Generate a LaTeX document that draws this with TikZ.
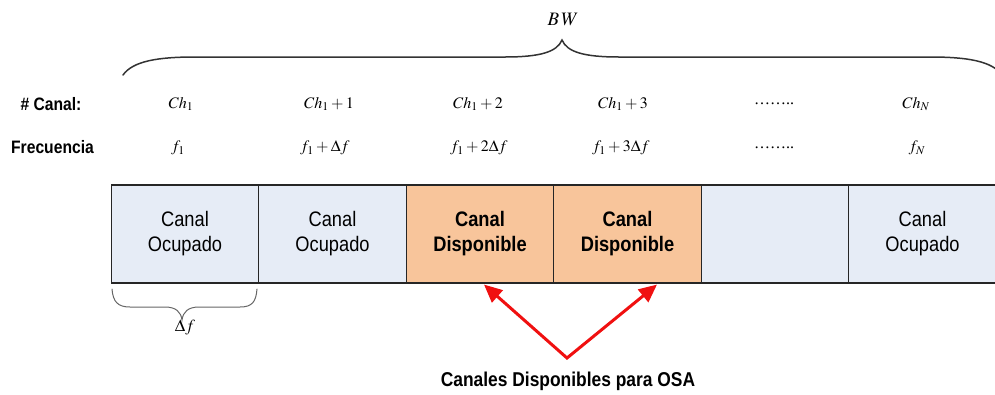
\documentclass[tikz,border=0pt]{standalone}
\usepackage{mathptmx}
\usepackage{fontspec}
\setmainfont{Liberation Serif}
\setsansfont{Liberation Sans}
\newfontfamily\condsans[FakeStretch=0.87]{Liberation Sans}
\usetikzlibrary{arrows.meta,calc}
\definecolor{occfill}{HTML}{E6ECF6}
\definecolor{availfill}{HTML}{F8C59B}
\definecolor{arrowred}{HTML}{F01010}
\begin{document}
\begin{tikzpicture}[x=1pt,y=-1pt,
  chbox/.style={draw=black!85,line width=1.1pt,fill=occfill,minimum width=147.5pt,minimum height=98pt,inner sep=0pt,align=center,font=\condsans\fontsize{21}{25}\selectfont},
  freebox/.style={chbox,fill=availfill,font=\condsans\bfseries\fontsize{21}{25}\selectfont},
  rowlabel/.style={font=\condsans\bfseries\fontsize{18}{20}\selectfont,inner sep=0pt},
  mathlabel/.style={font=\fontsize{16}{18}\selectfont,inner sep=0pt},
  bigbrace/.style={draw=black!80,line width=1.5pt,line cap=round},
  smallbrace/.style={draw=black!60,line width=1.0pt,line cap=round},
  redarrow/.style={draw=arrowred,line width=3pt,{Triangle[length=18pt,width=16pt]}-{Triangle[length=18pt,width=16pt]}}
]
\useasboundingbox (0,0) rectangle (995,394);

% channel boxes
\node[chbox]   (c1) at (185,234)   {Canal\\Ocupado};
\node[chbox]   (c2) at (332.5,234) {Canal\\Ocupado};
\node[freebox] (c3) at (480,234)   {Canal\\Disponible};
\node[freebox] (c4) at (627.5,234) {Canal\\Disponible};
\node[chbox]   (c5) at (775,234)   {};
\node[chbox]   (c6) at (922.5,234) {Canal\\Ocupado};

% row labels
\node[rowlabel] (lcanal) at (51,104) {\# Canal:};
\node[rowlabel] (lfreq)  at (52.5,147) {Frecuencia};

% channel numbers
\node[mathlabel] (n1) at (181,104) {$Ch_1$};
\node[mathlabel] (n2) at (329,104) {$Ch_1+1$};
\node[mathlabel] (n3) at (478,104) {$Ch_1+2$};
\node[mathlabel] (n4) at (623,104) {$Ch_1+3$};
\node[mathlabel] (n5) at (774,104) {……..};
\node[mathlabel] (n6) at (916,104) {$Ch_N$};

% frequencies
\node[mathlabel] (f1) at (178,148) {$f_1$};
\node[mathlabel] (f2) at (325,148) {$f_1+\Delta f$};
\node[mathlabel] (f3) at (479,148) {$f_1+2\Delta f$};
\node[mathlabel] (f4) at (621,148) {$f_1+3\Delta f$};
\node[mathlabel] (f5) at (774,148) {……..};
\node[mathlabel] (f6) at (917,148) {$f_N$};

% BW brace
\draw[bigbrace] (123,75) .. controls (133,61) and (158,57) .. (195,57) -- (505,57)
  .. controls (540,57) and (557,52) .. (562,40)
  .. controls (567,52) and (584,57) .. (619,57) -- (930,57)
  .. controls (967,57) and (992,61) .. (1002,75);
\node[font=\fontsize{19}{20}\selectfont,inner sep=0pt] (bw) at (563,19) {$B\,W$};

% Delta f brace
\draw[smallbrace] (112,289) .. controls (113,302) and (118,307) .. (130,307) -- (165,307)
  .. controls (176,307) and (181,312) .. (182,320)
  .. controls (183,312) and (188,307) .. (199,307) -- (240,307)
  .. controls (252,307) and (256,302) .. (257,289);
\node[font=\fontsize{17}{18}\selectfont,inner sep=0pt] (df) at (185,327) {$\Delta f$};

% red arrows
\coordinate (apex) at (567,358);
\draw[redarrow] ([xshift=4pt,yshift=-1pt]c3.south) -- (apex) -- ([xshift=29.5pt,yshift=-1pt]c4.south);
\node[font=\condsans\bfseries\fontsize{20}{22}\selectfont,inner sep=0pt] (osa) at (568,381) {Canales Disponibles para OSA};
\end{tikzpicture}
\end{document}
